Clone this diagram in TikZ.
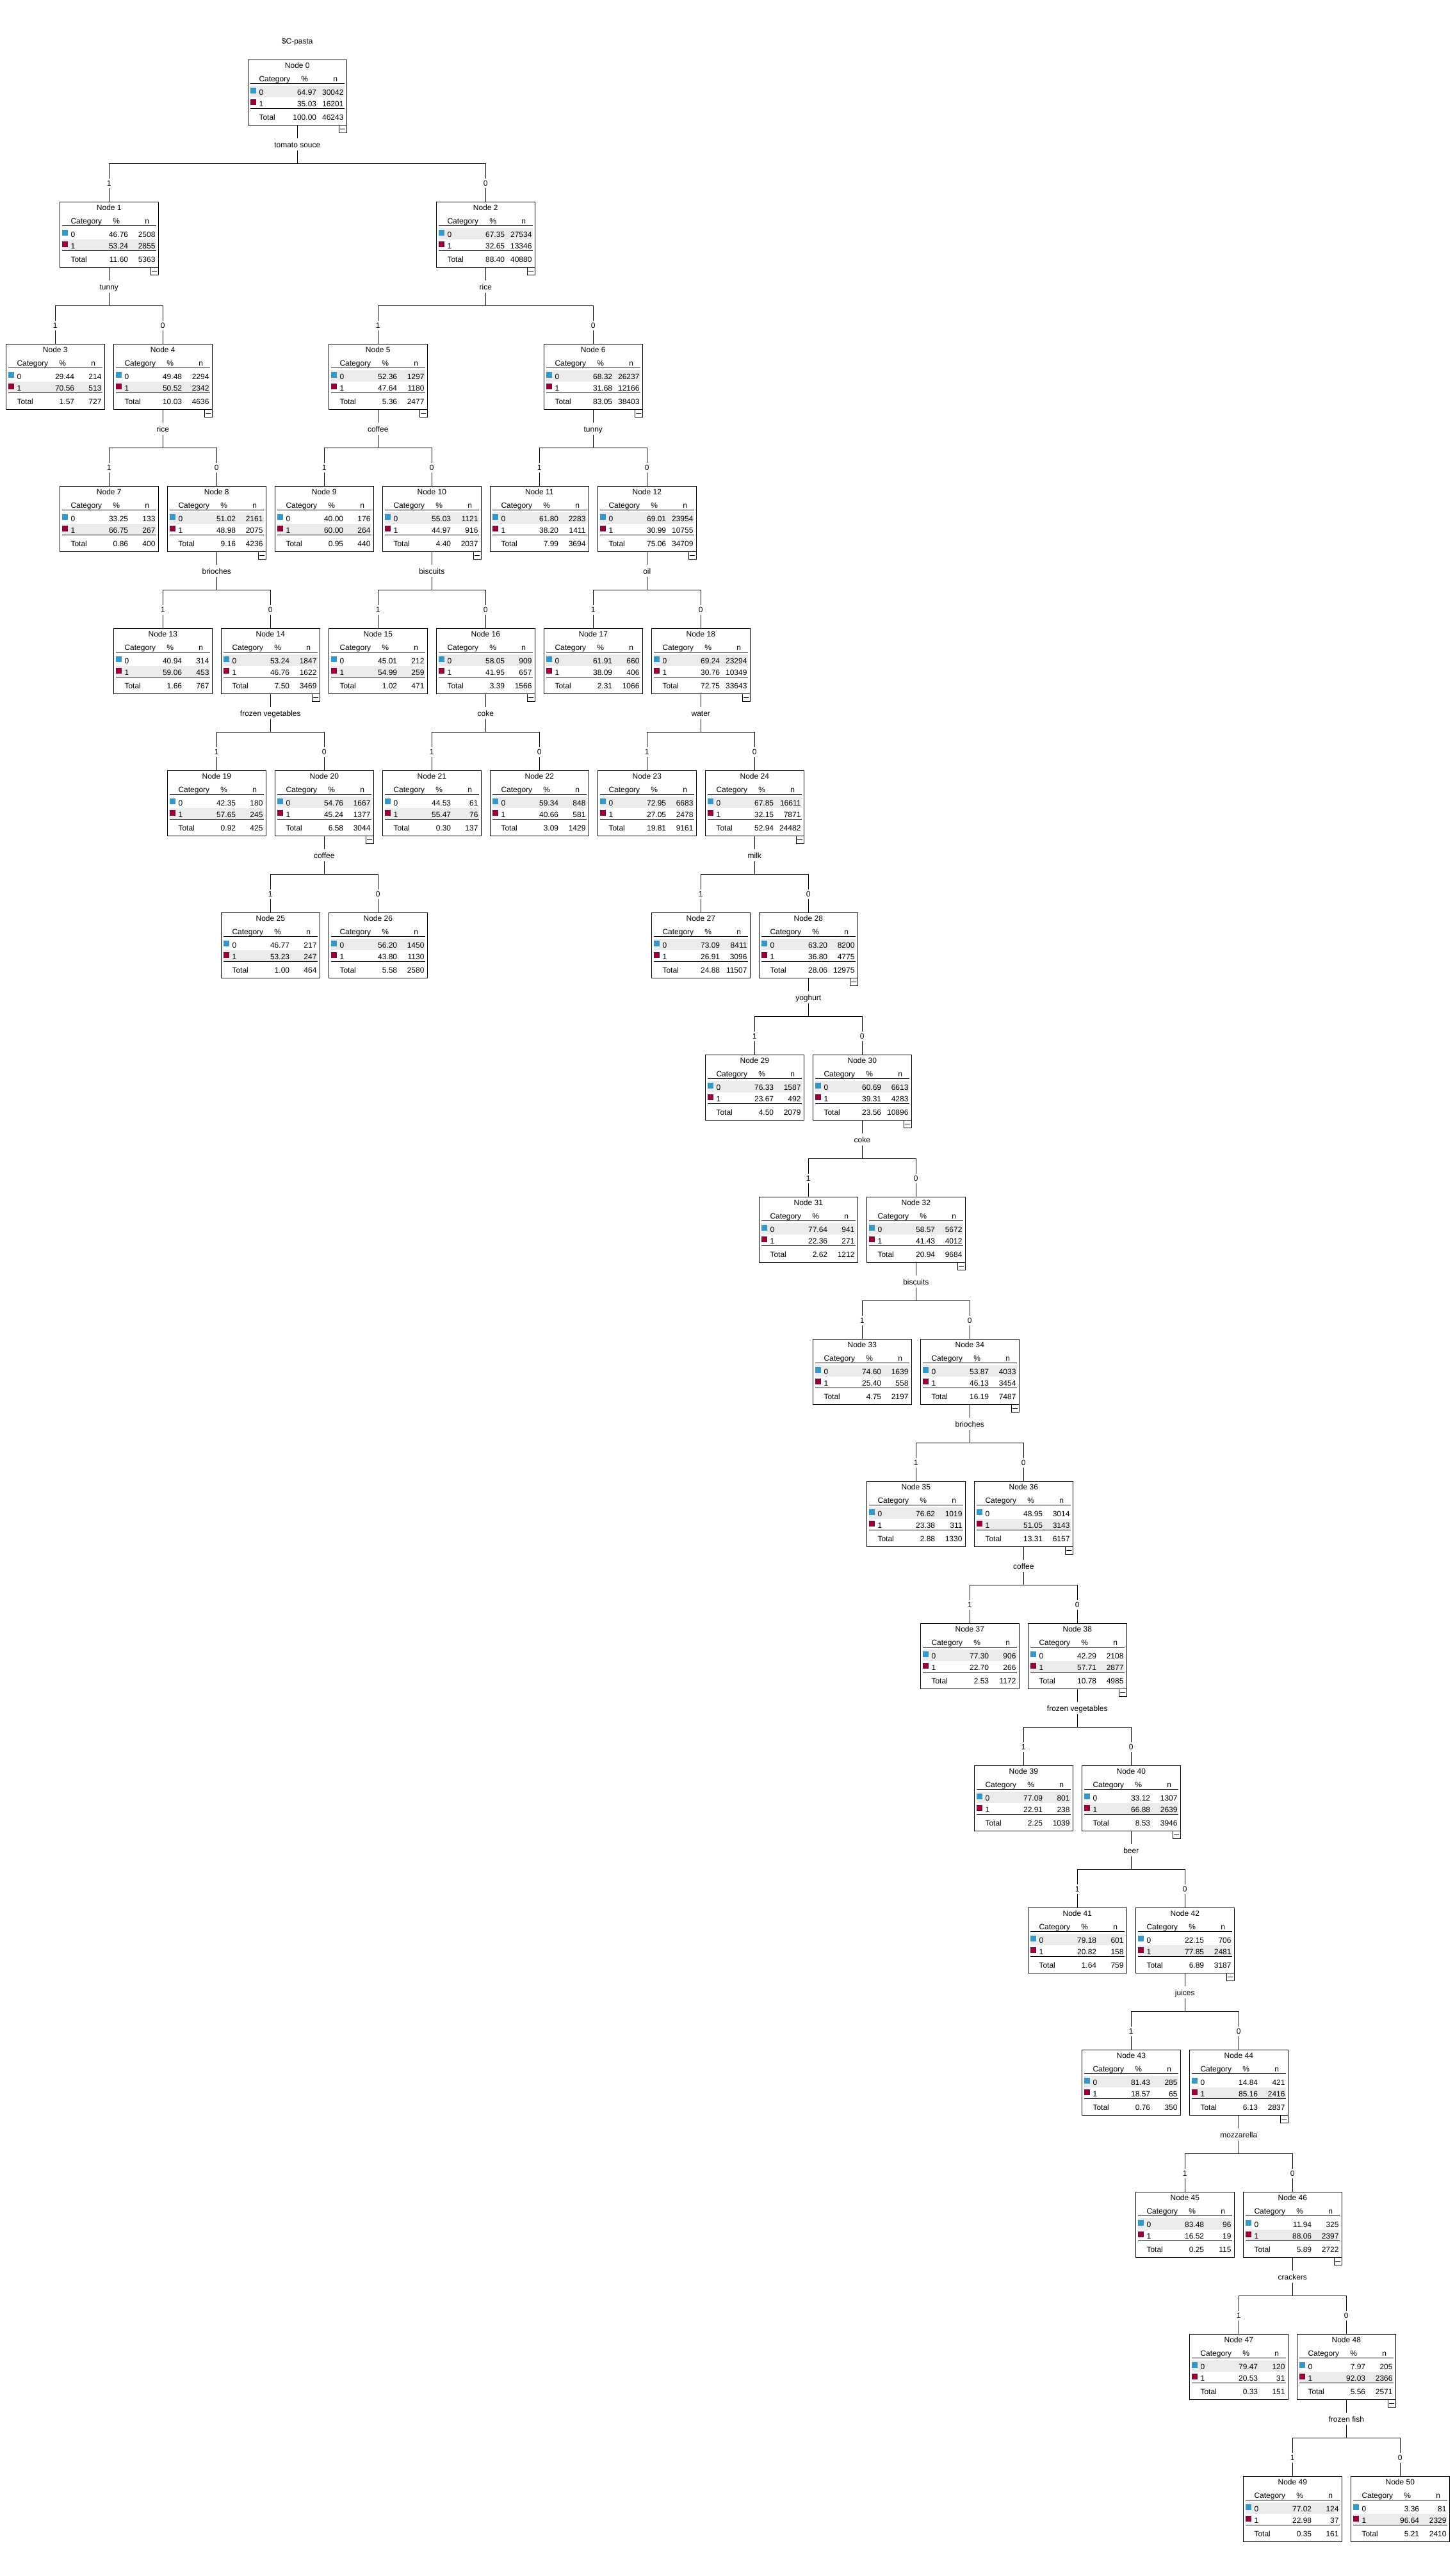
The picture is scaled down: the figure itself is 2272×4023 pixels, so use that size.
\documentclass[tikz,border=0pt]{standalone}
\usepackage{fontspec}
\setmainfont{Liberation Sans}
\definecolor{cat0}{RGB}{51,153,204}
\definecolor{cat1}{RGB}{153,0,51}
\definecolor{hishade}{RGB}{235,235,235}
\tikzset{
  cartbox/.style={draw, line width=1pt, minimum width=154pt, minimum height=102pt, inner sep=0pt, outer sep=0pt, anchor=north west},
  cell/.style={inner sep=0pt, font=\fontsize{12}{14}\selectfont},
  rule/.style={line width=1pt},
  link/.style={line width=1pt},
  splitlabel/.style={fill=white, anchor=base, inner sep=3pt, text height=11pt, text depth=1.5pt, font=\fontsize{12}{14}\selectfont},
  branchlabel/.style={fill=white, anchor=base, inner sep=2pt, text height=9pt, text depth=2pt, font=\fontsize{12}{14}\selectfont},
  foldbox/.style={draw, line width=1pt, minimum size=12pt, inner sep=0pt, outer sep=0pt, anchor=north east},
}
% #1 number, #2 slot, #3 level, #4 %0, #5 n0, #6 %1, #7 n1, #8 %total, #9 n total
\newcommand{\cartnode}[9]{%
  \node[cartbox] (n#1) at ({9.3+168*#2},{-93.3-222*#3}) {};
  \pgfmathtruncatemacro{\hirow}{#4>#6 ? 0 : 1}
  \begin{scope}[shift={(n#1.north west)}]
    \fill[hishade] (4,{-41-17.5*\hirow}) rectangle (150.4,{-58.5-17.5*\hirow});
    \draw[rule] (4,-37) -- (150.4,-37);
    \draw[rule] (4,-76) -- (150.4,-76);
    \fill[cat0] (4,-44) rectangle ++(9,-9);
    \fill[cat1] (4,-62) rectangle ++(9,-9);
    \node[cell,anchor=base] (n#1-id) at (77,-13) {Node #1};
    \node[cell,anchor=base west] (n#1-cat) at (17,-34) {Category};
    \node[cell,anchor=base] (n#1-pct) at (88.4,-34) {\%};
    \node[cell,anchor=base east] (n#1-nh) at (140,-34) {n};
    \node[cell,anchor=base west] (n#1-l0) at (17,-54.7) {0};
    \node[cell,anchor=base east] (n#1-p0) at (107,-54.7) {#4};
    \node[cell,anchor=base east] (n#1-c0) at (149.4,-54.7) {#5};
    \node[cell,anchor=base west] (n#1-l1) at (17,-72.7) {1};
    \node[cell,anchor=base east] (n#1-p1) at (107,-72.7) {#6};
    \node[cell,anchor=base east] (n#1-c1) at (149.4,-72.7) {#7};
    \node[cell,anchor=base west] (n#1-lt) at (17,-93.7) {Total};
    \node[cell,anchor=base east] (n#1-pt) at (107,-93.7) {#8};
    \node[cell,anchor=base east] (n#1-ct) at (149.4,-93.7) {#9};
  \end{scope}
}
% #1 parent, #2 left child (1), #3 right child (0), #4 predictor
\newcommand{\cartsplit}[4]{%
  \draw[link] (n#1.south) -- ++(0,-60) -| (n#2.north);
  \draw[link] (n#1.south) -- ++(0,-60) -| (n#3.north);
  \node[splitlabel] (s#1) at ([yshift=-35]n#1.south) {#4};
  \node[branchlabel] (b#2) at ([yshift=25]n#2.north) {1};
  \node[branchlabel] (b#3) at ([yshift=25]n#3.north) {0};
  \node[foldbox] (f#1) at (n#1.south east) {};
  \draw[rule] ([xshift=2]f#1.west) -- ([xshift=-2]f#1.east);
}

\begin{document}
\begin{tikzpicture}[x=1pt,y=1pt]
\useasboundingbox (0,0) rectangle (2272,-4023);
\node[cell,anchor=base] (title) at (464.3,-68) {\$C-pasta};

\cartnode{0}{2.25}{0}{64.97}{30042}{35.03}{16201}{100.00}{46243}
\cartnode{1}{0.5}{1}{46.76}{2508}{53.24}{2855}{11.60}{5363}
\cartnode{2}{4}{1}{67.35}{27534}{32.65}{13346}{88.40}{40880}
\cartnode{3}{0}{2}{29.44}{214}{70.56}{513}{1.57}{727}
\cartnode{4}{1}{2}{49.48}{2294}{50.52}{2342}{10.03}{4636}
\cartnode{5}{3}{2}{52.36}{1297}{47.64}{1180}{5.36}{2477}
\cartnode{6}{5}{2}{68.32}{26237}{31.68}{12166}{83.05}{38403}
\cartnode{7}{0.5}{3}{33.25}{133}{66.75}{267}{0.86}{400}
\cartnode{8}{1.5}{3}{51.02}{2161}{48.98}{2075}{9.16}{4236}
\cartnode{9}{2.5}{3}{40.00}{176}{60.00}{264}{0.95}{440}
\cartnode{10}{3.5}{3}{55.03}{1121}{44.97}{916}{4.40}{2037}
\cartnode{11}{4.5}{3}{61.80}{2283}{38.20}{1411}{7.99}{3694}
\cartnode{12}{5.5}{3}{69.01}{23954}{30.99}{10755}{75.06}{34709}
\cartnode{13}{1}{4}{40.94}{314}{59.06}{453}{1.66}{767}
\cartnode{14}{2}{4}{53.24}{1847}{46.76}{1622}{7.50}{3469}
\cartnode{15}{3}{4}{45.01}{212}{54.99}{259}{1.02}{471}
\cartnode{16}{4}{4}{58.05}{909}{41.95}{657}{3.39}{1566}
\cartnode{17}{5}{4}{61.91}{660}{38.09}{406}{2.31}{1066}
\cartnode{18}{6}{4}{69.24}{23294}{30.76}{10349}{72.75}{33643}
\cartnode{19}{1.5}{5}{42.35}{180}{57.65}{245}{0.92}{425}
\cartnode{20}{2.5}{5}{54.76}{1667}{45.24}{1377}{6.58}{3044}
\cartnode{21}{3.5}{5}{44.53}{61}{55.47}{76}{0.30}{137}
\cartnode{22}{4.5}{5}{59.34}{848}{40.66}{581}{3.09}{1429}
\cartnode{23}{5.5}{5}{72.95}{6683}{27.05}{2478}{19.81}{9161}
\cartnode{24}{6.5}{5}{67.85}{16611}{32.15}{7871}{52.94}{24482}
\cartnode{25}{2}{6}{46.77}{217}{53.23}{247}{1.00}{464}
\cartnode{26}{3}{6}{56.20}{1450}{43.80}{1130}{5.58}{2580}
\cartnode{27}{6}{6}{73.09}{8411}{26.91}{3096}{24.88}{11507}
\cartnode{28}{7}{6}{63.20}{8200}{36.80}{4775}{28.06}{12975}
\cartnode{29}{6.5}{7}{76.33}{1587}{23.67}{492}{4.50}{2079}
\cartnode{30}{7.5}{7}{60.69}{6613}{39.31}{4283}{23.56}{10896}
\cartnode{31}{7}{8}{77.64}{941}{22.36}{271}{2.62}{1212}
\cartnode{32}{8}{8}{58.57}{5672}{41.43}{4012}{20.94}{9684}
\cartnode{33}{7.5}{9}{74.60}{1639}{25.40}{558}{4.75}{2197}
\cartnode{34}{8.5}{9}{53.87}{4033}{46.13}{3454}{16.19}{7487}
\cartnode{35}{8}{10}{76.62}{1019}{23.38}{311}{2.88}{1330}
\cartnode{36}{9}{10}{48.95}{3014}{51.05}{3143}{13.31}{6157}
\cartnode{37}{8.5}{11}{77.30}{906}{22.70}{266}{2.53}{1172}
\cartnode{38}{9.5}{11}{42.29}{2108}{57.71}{2877}{10.78}{4985}
\cartnode{39}{9}{12}{77.09}{801}{22.91}{238}{2.25}{1039}
\cartnode{40}{10}{12}{33.12}{1307}{66.88}{2639}{8.53}{3946}
\cartnode{41}{9.5}{13}{79.18}{601}{20.82}{158}{1.64}{759}
\cartnode{42}{10.5}{13}{22.15}{706}{77.85}{2481}{6.89}{3187}
\cartnode{43}{10}{14}{81.43}{285}{18.57}{65}{0.76}{350}
\cartnode{44}{11}{14}{14.84}{421}{85.16}{2416}{6.13}{2837}
\cartnode{45}{10.5}{15}{83.48}{96}{16.52}{19}{0.25}{115}
\cartnode{46}{11.5}{15}{11.94}{325}{88.06}{2397}{5.89}{2722}
\cartnode{47}{11}{16}{79.47}{120}{20.53}{31}{0.33}{151}
\cartnode{48}{12}{16}{7.97}{205}{92.03}{2366}{5.56}{2571}
\cartnode{49}{11.5}{17}{77.02}{124}{22.98}{37}{0.35}{161}
\cartnode{50}{12.5}{17}{3.36}{81}{96.64}{2329}{5.21}{2410}

% splits
\cartsplit{0}{1}{2}{tomato souce}
\cartsplit{1}{3}{4}{tunny}
\cartsplit{2}{5}{6}{rice}
\cartsplit{4}{7}{8}{rice}
\cartsplit{5}{9}{10}{coffee}
\cartsplit{6}{11}{12}{tunny}
\cartsplit{8}{13}{14}{brioches}
\cartsplit{10}{15}{16}{biscuits}
\cartsplit{12}{17}{18}{oil}
\cartsplit{14}{19}{20}{frozen vegetables}
\cartsplit{16}{21}{22}{coke}
\cartsplit{18}{23}{24}{water}
\cartsplit{20}{25}{26}{coffee}
\cartsplit{24}{27}{28}{milk}
\cartsplit{28}{29}{30}{yoghurt}
\cartsplit{30}{31}{32}{coke}
\cartsplit{32}{33}{34}{biscuits}
\cartsplit{34}{35}{36}{brioches}
\cartsplit{36}{37}{38}{coffee}
\cartsplit{38}{39}{40}{frozen vegetables}
\cartsplit{40}{41}{42}{beer}
\cartsplit{42}{43}{44}{juices}
\cartsplit{44}{45}{46}{mozzarella}
\cartsplit{46}{47}{48}{crackers}
\cartsplit{48}{49}{50}{frozen fish}
\end{tikzpicture}
\end{document}
